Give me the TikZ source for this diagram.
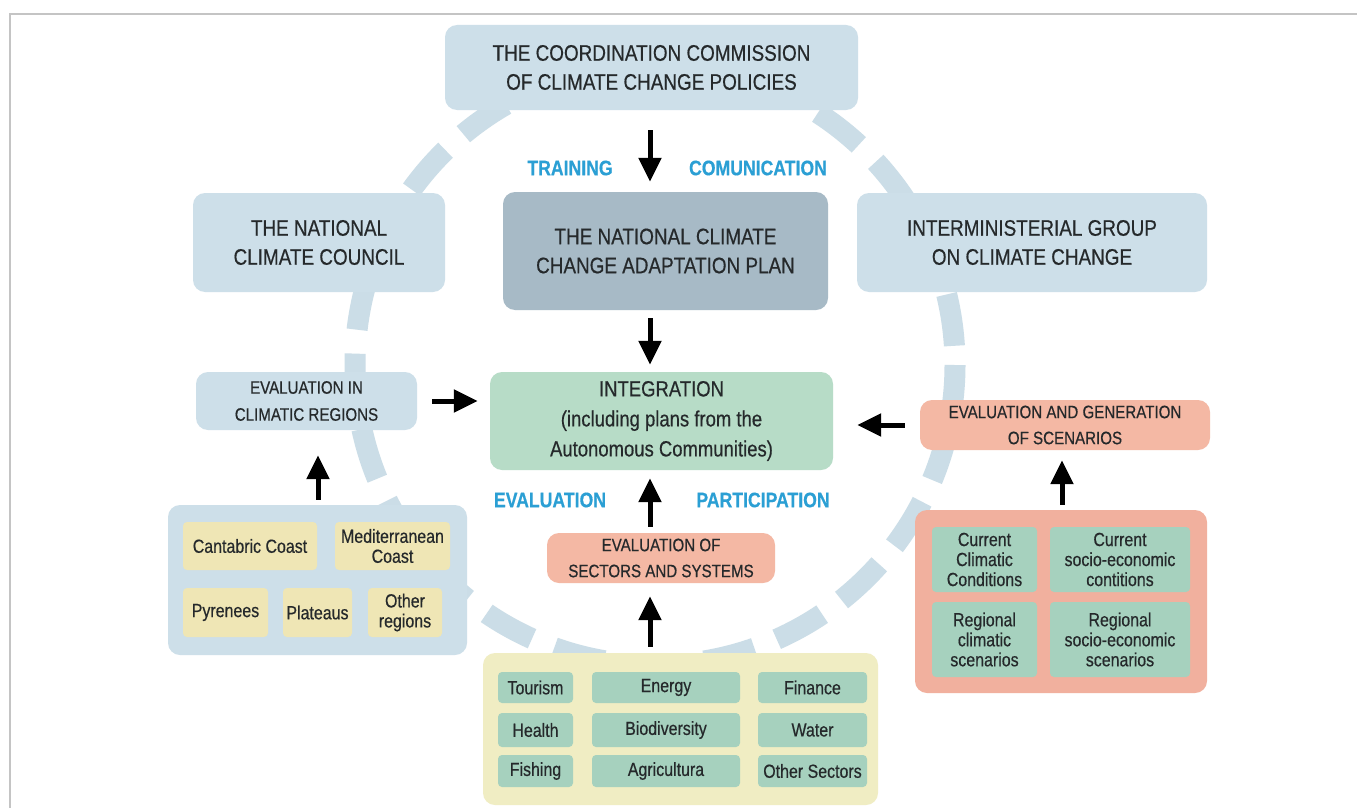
\documentclass[tikz,border=0pt]{standalone}
\usepackage{fontspec}
\setmainfont{Liberation Sans}[FakeStretch=0.84, FakeBold=0.5]
\usetikzlibrary{arrows.meta}
\definecolor{blueA}{HTML}{CDDFE9}
\definecolor{ringC}{HTML}{CBDDE7}
\definecolor{planC}{HTML}{A7BAC6}
\definecolor{greenI}{HTML}{B7DCC7}
\definecolor{salmon}{HTML}{F4B8A4}
\definecolor{salmonO}{HTML}{F1B09E}
\definecolor{yellowO}{HTML}{F0EDC3}
\definecolor{beige}{HTML}{EFE6B5}
\definecolor{greenS}{HTML}{A6D1BE}
\definecolor{txtC}{HTML}{25292B}
\definecolor{blueT}{HTML}{2B9FD4}
\definecolor{frameC}{HTML}{C4C4C4}
\tikzset{
  bx/.style={rounded corners=12pt, inner sep=0pt, align=center, text=txtC},
  head/.style={bx, font=\fontsize{22.5}{29}\selectfont},
  evbox/.style={bx, fill=salmon, font=\fontsize{18}{26}\selectfont},
  lab/.style={bx, rounded corners=4pt, font=\fontsize{19}{20}\selectfont},
  blue/.style={text=blueT, font=\bfseries\fontsize{21}{24}\selectfont, inner sep=0pt},
  arr/.style={draw=black, line width=5pt, -{Triangle[length=24pt,width=22pt]}},
  ring/.style={draw=ringC, line width=21pt, dash pattern=on 52pt off 24pt, dash phase=10pt}
}
\begin{document}
\begin{tikzpicture}[x=1pt,y=-1pt]
\useasboundingbox[fill=white] (0,0) rectangle (1357,808);
\draw[frameC, line width=2pt] (10,808) -- (10,14) -- (1357,14);
% ring
\draw[ring] (655,365) circle[radius=300];
% top row
\node[head, fill=blueA, minimum width=413pt, minimum height=85pt] (comm) at (651.5,67.5)
  {THE COORDINATION COMMISSION\\OF CLIMATE CHANGE POLICIES};
\node[head, fill=blueA, minimum width=252pt, minimum height=99pt] (council) at (319,242.5)
  {THE NATIONAL\\CLIMATE COUNCIL};
\node[head, fill=planC, minimum width=325pt, minimum height=118pt] (plan) at (665.5,251)
  {THE NATIONAL CLIMATE\\CHANGE ADAPTATION PLAN};
\node[head, fill=blueA, minimum width=350pt, minimum height=99pt] (inter) at (1032,242.5)
  {INTERMINISTERIAL GROUP\\ON CLIMATE CHANGE};
% blue labels
\node[blue] (training) at (570,168) {TRAINING};
\node[blue] (comun) at (758,168) {COMUNICATION};
\node[blue] (evallab) at (550,500) {EVALUATION};
\node[blue] (partic) at (763,500) {PARTICIPATION};
% middle
\node[bx, fill=greenI, minimum width=343pt, minimum height=98pt, font=\fontsize{22}{30}\selectfont] (integ) at (661.5,421)
  {INTEGRATION\\(including plans from the\\Autonomous Communities)};
\node[bx, fill=blueA, minimum width=221pt, minimum height=58pt, font=\fontsize{18}{27}\selectfont] (evreg) at (306.5,401)
  {EVALUATION IN\\CLIMATIC REGIONS};
\node[evbox, minimum width=290pt, minimum height=50pt] (evgen) at (1065,425)
  {EVALUATION AND GENERATION\\OF SCENARIOS};
\node[evbox, minimum width=228pt, minimum height=50pt] (evsec) at (661,558)
  {EVALUATION OF\\SECTORS AND SYSTEMS};
% left cluster
\node[bx, fill=blueA, minimum width=299pt, minimum height=150pt] (regions) at (317.5,580) {};
\node[lab, fill=beige, minimum width=134pt, minimum height=48pt] (cant) at (250,546) {Cantabric Coast};
\node[lab, fill=beige, minimum width=115pt, minimum height=48pt] (medi) at (392.5,546) {Mediterranean\\Coast};
\node[lab, fill=beige, minimum width=85pt, minimum height=49pt] (pyr) at (225.5,612.5) {Pyrenees};
\node[lab, fill=beige, minimum width=69pt, minimum height=49pt] (plat) at (317.5,612.5) {Plateaus};
\node[lab, fill=beige, minimum width=74pt, minimum height=49pt] (othr) at (405,612.5) {Other\\regions};
% right cluster
\node[bx, fill=salmonO, minimum width=292pt, minimum height=183pt] (scen) at (1061,601.5) {};
\node[lab, fill=greenS, minimum width=105pt, minimum height=65pt] (ccc) at (984.5,559.5) {Current\\Climatic\\Conditions};
\node[lab, fill=greenS, minimum width=140pt, minimum height=65pt] (csc) at (1120,559.5) {Current\\socio-economic\\contitions};
\node[lab, fill=greenS, minimum width=105pt, minimum height=75pt] (rcs) at (984.5,639.5) {Regional\\climatic\\scenarios};
\node[lab, fill=greenS, minimum width=140pt, minimum height=75pt] (rss) at (1120,639.5) {Regional\\socio-economic\\scenarios};
% bottom sectors
\node[bx, fill=yellowO, minimum width=395pt, minimum height=152pt] (sect) at (680.5,729) {};
\node[lab, fill=greenS, minimum width=75pt, minimum height=31pt] (tour) at (535.5,687.5) {Tourism};
\node[lab, fill=greenS, minimum width=148pt, minimum height=31pt] (ener) at (666,687.5) {Energy};
\node[lab, fill=greenS, minimum width=109pt, minimum height=31pt] (fina) at (812.5,687.5) {Finance};
\node[lab, fill=greenS, minimum width=75pt, minimum height=34pt] (heal) at (535.5,730) {Health};
\node[lab, fill=greenS, minimum width=148pt, minimum height=34pt] (biod) at (666,730) {Biodiversity};
\node[lab, fill=greenS, minimum width=109pt, minimum height=34pt] (watr) at (812.5,730) {Water};
\node[lab, fill=greenS, minimum width=75pt, minimum height=32pt] (fish) at (535.5,771) {Fishing};
\node[lab, fill=greenS, minimum width=148pt, minimum height=32pt] (agri) at (666,771) {Agricultura};
\node[lab, fill=greenS, minimum width=109pt, minimum height=32pt] (oths) at (812.5,771) {Other Sectors};
% arrows
\coordinate (a1) at (650,110);
\draw[arr, shorten <=20pt, shorten >=10pt] (comm.south -| a1) -- (plan.north -| a1);
\draw[arr, shorten <=8pt, shorten >=7pt] (plan.south -| a1) -- (integ.north -| a1);
\draw[arr, shorten <=6pt, shorten >=8pt] (evsec.north -| a1) -- (integ.south -| a1);
\draw[arr, shorten <=6pt, shorten >=13pt] (sect.north -| a1) -- (evsec.south -| a1);
\draw[arr, shorten <=15pt, shorten >=12pt] (evreg.east) -- (integ.west |- evreg.east);
\draw[arr, shorten <=15pt, shorten >=24pt] (evgen.west) -- (integ.east |- evgen.west);
\coordinate (a2) at (318,500);
\draw[arr, shorten <=5pt, shorten >=25pt] (regions.north -| a2) -- (evreg.south -| a2);
\coordinate (a3) at (1062,500);
\draw[arr, shorten <=5pt, shorten >=10pt] (scen.north -| a3) -- (evgen.south -| a3);
\end{tikzpicture}
\end{document}
